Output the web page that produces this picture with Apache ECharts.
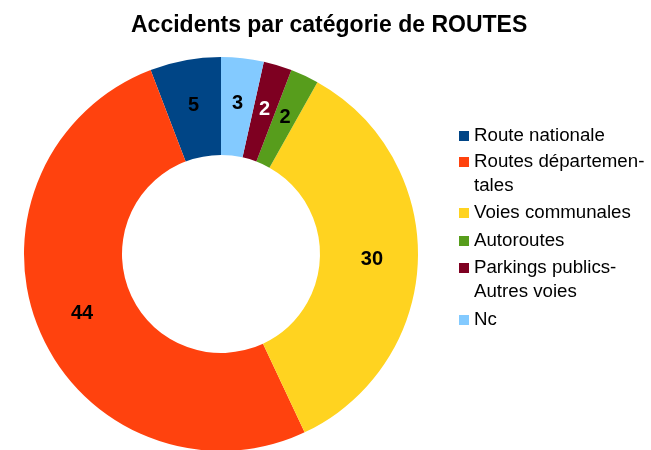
<!DOCTYPE html>
<html>
<head>
<meta charset="utf-8">
<script src="https://cdn.jsdelivr.net/npm/echarts@6/dist/echarts.min.js"></script>
<style>
    html,body{margin:0;padding:0;background:#fff;}
    #chart{width:651px;height:450px;}
</style>
</head>
<body>
<div id="chart"></div>
<script>
    // data
    var categories = ['Route nationale', 'Routes départementales', 'Voies communales', 'Autoroutes', 'Parkings publics-Autres voies', 'Nc'];
    var legendLabels = ['Route nationale', 'Routes départemen-\ntales', 'Voies communales', 'Autoroutes', 'Parkings publics-\nAutres voies', 'Nc'];
    var accidents = [5, 44, 30, 2, 2, 3];

    // LibreOffice default palette
    var colors = ['#004586', '#ff420e', '#ffd320', '#579d1c', '#7e0021', '#83caff'];
    var labelColors = ['#000', '#000', '#000', '#000', '#fff', '#000'];
    // centre of the first text line of each legend entry
    var legendLineY = [136, 162, 213, 241, 268, 320];

    var FONT = '"Liberation Sans", Arial, sans-serif';
    var LH = 24;

    var legends = [];
    for (var i = 0; i < categories.length; i++) {
        var txt = legendLabels[i];
        var lines = txt.split('\n').length;
        // blank lines on top so the icon sits next to the first line
        for (var k = 1; k < lines; k++) txt = ' \n' + txt;
        var boxH = (2 * lines - 1) * LH;
        legends.push({
            orient: 'vertical',
            left: 459,
            top: legendLineY[i] - boxH / 2,
            padding: 0,
            itemWidth: 10,
            itemHeight: 10,
            icon: 'rect',
            selectedMode: false,
            data: [categories[i]],
            formatter: (function (lbl) { return function () { return lbl; }; })(txt),
            textStyle: {
                fontFamily: FONT,
                fontSize: 18.7,
                color: '#000',
                lineHeight: LH
            }
        });
    }

    var chart = echarts.init(document.getElementById('chart'));
    var option = {
        animation: false,
        color: colors,
        title: {
            text: 'Accidents par catégorie de ROUTES',
            left: 126,
            top: 9,
            textStyle: {
                fontFamily: FONT,
                fontSize: 23,
                fontWeight: 'bold',
                color: '#000'
            }
        },
        legend: legends,
        series: [{
            type: 'pie',
            center: [221, 254],
            radius: [99, 197],
            startAngle: 90,
            clockwise: false,
            avoidLabelOverlap: false,
            emphasis: {disabled: true},
            itemStyle: {borderWidth: 0},
            label: {
                show: true,
                position: 'inside',
                fontFamily: FONT,
                fontSize: 20,
                fontWeight: 'bold',
                formatter: '{c}'
            },
            labelLine: {show: false},
            data: categories.map(function (c, i) {
                return {name: c, value: accidents[i], label: {color: labelColors[i]}};
            })
        }]
    };
    chart.setOption(option);
</script>
</body>
</html>
